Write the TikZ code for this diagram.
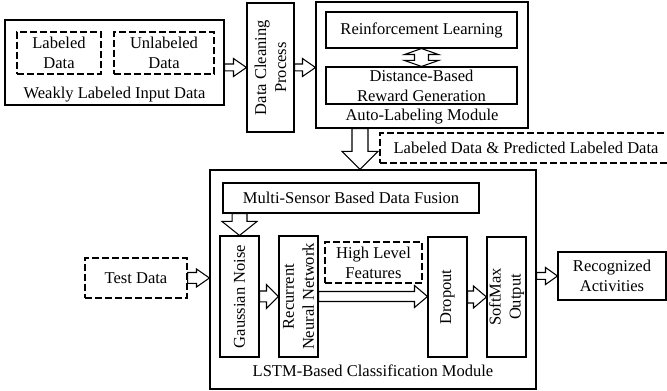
\documentclass[tikz,border=0pt]{standalone}
\usepackage{fontspec}
\setmainfont{Liberation Serif}
\usetikzlibrary{calc}

\begin{document}
\begin{tikzpicture}[x=0.75pt,y=-0.75pt,line width=0.8pt,
  font=\fontsize{12.4}{15}\selectfont,
  every node/.style={align=center,inner sep=0pt},
  blk/.style={draw,rectangle},
  dsh/.style={draw,rectangle,dash pattern=on 5pt off 2.5pt},
  ashaft/.store in=\ashaft, ahead/.store in=\ahead, alen/.store in=\alen,
  harrow/.style n args={3}{ashaft=#1,ahead=#2,alen=#3,
    to path={let \p1=(\tikztostart), \p2=(\tikztotarget) in
      (\x1,\y1+\ashaft) -- (\x2-\alen,\y1+\ashaft) -- (\x2-\alen,\y1+\ahead) -- (\x2,\y1)
      -- (\x2-\alen,\y1-\ahead) -- (\x2-\alen,\y1-\ashaft) -- (\x1,\y1-\ashaft) -- cycle}},
  varrow/.style n args={3}{ashaft=#1,ahead=#2,alen=#3,
    to path={let \p1=(\tikztostart), \p2=(\tikztotarget) in
      (\x1-\ashaft,\y1) -- (\x1-\ashaft,\y2+\alen) -- (\x1-\ahead,\y2+\alen) -- (\x1,\y2)
      -- (\x1+\ahead,\y2+\alen) -- (\x1+\ashaft,\y2+\alen) -- (\x1+\ashaft,\y1) -- cycle}},
  dvarrow/.style={
    to path={let \p1=(\tikztostart), \p2=(\tikztotarget) in
      (\x1,\y1) -- (\x1+12.75pt,\y1-4.5pt) -- (\x1+5.25pt,\y1-4.5pt) -- (\x1+5.25pt,\y2+4.5pt)
      -- (\x1+12.75pt,\y2+4.5pt) -- (\x1,\y2) -- (\x1-12.75pt,\y2+4.5pt) -- (\x1-5.25pt,\y2+4.5pt)
      -- (\x1-5.25pt,\y1-4.5pt) -- (\x1-12.75pt,\y1-4.5pt) -- cycle}}]
\useasboundingbox (0,0) rectangle (667,391);

  % auto-labeling part
  \node[blk,minimum width=164.25pt,minimum height=63.75pt] (WL) at (114.5,62.5) {};
  \node[dsh,minimum width=63pt,minimum height=31.5pt]     (LD) at (59,53)      {Labeled\\Data};
  \node[dsh,minimum width=75pt,minimum height=31.5pt]     (UD) at (164,53)     {Unlabeled\\Data};
  \node                                                   (WLt) at (114.5,95)  {Weakly Labeled Input Data};
  \node[blk,rotate=90,minimum width=96.75pt,minimum height=35.25pt] (DC) at (270.5,67.5) {Data Cleaning\\Process};
  \node[blk,minimum width=159pt,minimum height=94.5pt]    (AL) at (422,65)     {};
  \node[blk,minimum width=143.25pt,minimum height=27pt]   (RL) at (421.5,30)   {Reinforcement Learning};
  \node[blk,minimum width=143.25pt,minimum height=27.75pt] (DR) at (421.5,85.5) {Distance-Based\\Reward Generation};
  \node                                                   (ALt) at (422,117)   {Auto-Labeling Module};
  \node[dsh,minimum width=219pt,minimum height=22.5pt]    (PL) at (526,148)    {Labeled Data \& Predicted Labeled Data};

  % classification part
  \node[blk,minimum width=244.5pt,minimum height=164.25pt] (LS) at (373,279.5) {};
  \node[blk,minimum width=192pt,minimum height=22.5pt]    (MS) at (351,198)    {Multi-Sensor Based Data Fusion};
  \node[blk,rotate=90,minimum width=90.75pt,minimum height=29.25pt] (GN) at (239.5,296.5) {Gaussian Noise};
  \node[blk,rotate=90,minimum width=90.75pt,minimum height=29.25pt] (RN) at (298.5,296.5) {Recurrent\\Neural Network};
  \node[dsh,minimum width=72.75pt,minimum height=30.75pt] (HL) at (373.5,262.5) {High Level\\Features};
  \node[blk,rotate=90,minimum width=90pt,minimum height=29.25pt]    (DO) at (447.5,297)   {Dropout};
  \node[blk,rotate=90,minimum width=90pt,minimum height=29.25pt]    (SM) at (506.5,297)   {SoftMax\\Output};
  \node                                                   (LSt) at (373,371)   {LSTM-Based Classification Module};
  \node[dsh,minimum width=76.5pt,minimum height=30pt]     (TD) at (136,278)    {Test Data};
  \node[blk,minimum width=81pt,minimum height=36pt]       (RA) at (612,276)    {Recognized\\Activities};

  \draw[harrow={2.6pt}{6.75pt}{9.75pt}] (WL.east |- DC.north) to (DC.north);
  \draw[harrow={2.6pt}{6.75pt}{9.75pt}] (DC.south) to (DC.south -| AL.west);
  \draw[dvarrow] (RL.south) to (DR.north);
  \draw[varrow={6pt}{13.5pt}{13.5pt}] ([xshift=-46.5pt]AL.south) to ([xshift=-46.5pt]AL.south |- LS.north);
  \draw[varrow={5.6pt}{13.1pt}{10.5pt}] (MS.south -| GN.east) to (GN.east);
  \draw[harrow={4.1pt}{6.75pt}{9.75pt}] (TD.east) to (TD.east -| LS.west);
  \draw[harrow={4.1pt}{9pt}{9pt}] (GN.south) to (GN.south -| RN.north);
  \draw[harrow={3.75pt}{8.25pt}{9.75pt}] (RN.south) to (RN.south -| DO.north);
  \draw[harrow={4.5pt}{8.25pt}{9.75pt}] (DO.south) to (DO.south -| SM.north);
  \draw[harrow={2.6pt}{6.4pt}{9pt}] (RA.west -| LS.east) to (RA.west);
\end{tikzpicture}
\end{document}
